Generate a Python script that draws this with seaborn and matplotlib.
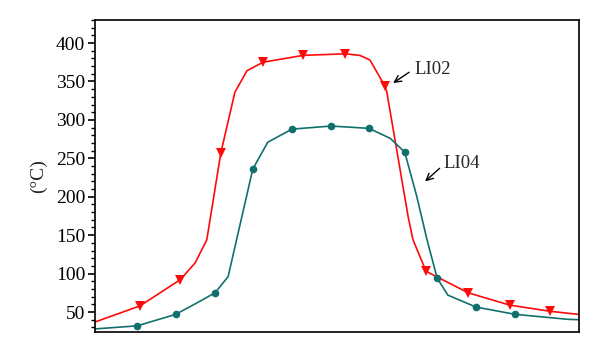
import matplotlib
matplotlib.use("Agg")
import matplotlib.pyplot as plt
from matplotlib.ticker import MultipleLocator
import seaborn as sns
import pandas as pd

# LI02 series (time in arbitrary units 0-100, temperature in °C)
li02_t = [0, 9.3, 17.6, 20.7, 23.1, 26.0, 28.9, 31.4, 34.7, 43.0, 51.7, 54.7,
          56.8, 59.9, 60.3, 64.7, 65.7, 68.4, 77.1, 85.7, 94.0, 99.8]
li02_v = [37, 58, 92, 114, 144, 257, 336, 364, 375, 384, 386, 384,
          378, 344, 336, 174, 144, 103, 75, 59, 51, 47]
li02_marks = [1, 2, 5, 8, 9, 10, 13, 17, 18, 19, 20]

# LI04 series
li04_t = [0, 8.7, 16.7, 21.1, 24.8, 27.5, 32.6, 35.7, 40.7, 48.8, 56.6, 61.0,
          64.0, 66.5, 68.6, 70.7, 72.9, 78.7, 86.8, 97.7, 100]
li04_v = [28, 32, 47, 62, 75, 96, 236, 271, 288, 292, 289, 276,
          258, 200, 144, 94, 72, 56.5, 47, 40.5, 40]
li04_marks = [1, 2, 4, 6, 8, 9, 10, 12, 15, 17, 18]

y_ticks = [50, 100, 150, 200, 250, 300, 350, 400]

red = "#ff0a0a"
teal = "#12706c"

sns.set_theme(style="white")
plt.rcParams["font.family"] = ["Liberation Serif", "DejaVu Serif"]

fig = plt.figure(figsize=(6.0, 3.54), dpi=100)
ax = fig.add_axes([95 / 600, 1 - 332 / 354, (579 - 95) / 600, (332 - 20) / 354])

df02 = pd.DataFrame({"t": li02_t, "v": li02_v})
df04 = pd.DataFrame({"t": li04_t, "v": li04_v})

sns.lineplot(data=df02, x="t", y="v", ax=ax, color=red, lw=1.2,
             marker="v", markersize=7, markevery=li02_marks, markeredgewidth=0,
             estimator=None, sort=False)
sns.lineplot(data=df04, x="t", y="v", ax=ax, color=teal, lw=1.2,
             marker="o", markersize=5.5, markevery=li04_marks, markeredgewidth=0,
             estimator=None, sort=False)

ax.set_xlim(0, 100)
ax.set_ylim(24, 430)
ax.set_yticks(y_ticks)
ax.yaxis.set_minor_locator(MultipleLocator(10))
ax.set_xticks([])
ax.tick_params(axis="y", which="major", direction="out", length=5, width=1.2,
               labelsize=14, left=True, pad=2, colors="black")
ax.tick_params(axis="y", which="minor", direction="out", length=3, width=1.0,
               left=True, colors="black")
ax.set_xlabel("")
ax.set_ylabel("(°C)", fontsize=14, labelpad=6)
for s in ax.spines.values():
    s.set_color("black")
    s.set_linewidth(1.2)

# annotations: arrow drawn separately from the label text
ax.annotate("", xy=(61.6, 348), xytext=(64.9, 362),
            arrowprops=dict(arrowstyle="->", color="black", lw=1.0,
                            shrinkA=0, shrinkB=0, mutation_scale=12))
ax.text(65.9, 366, "LI02", fontsize=13.5, va="center", ha="left")
ax.annotate("", xy=(68.2, 220), xytext=(71.2, 237),
            arrowprops=dict(arrowstyle="->", color="black", lw=1.0,
                            shrinkA=0, shrinkB=0, mutation_scale=12))
ax.text(71.9, 243, "LI04", fontsize=13.5, va="center", ha="left")

fig.savefig("out.png", dpi=100)
